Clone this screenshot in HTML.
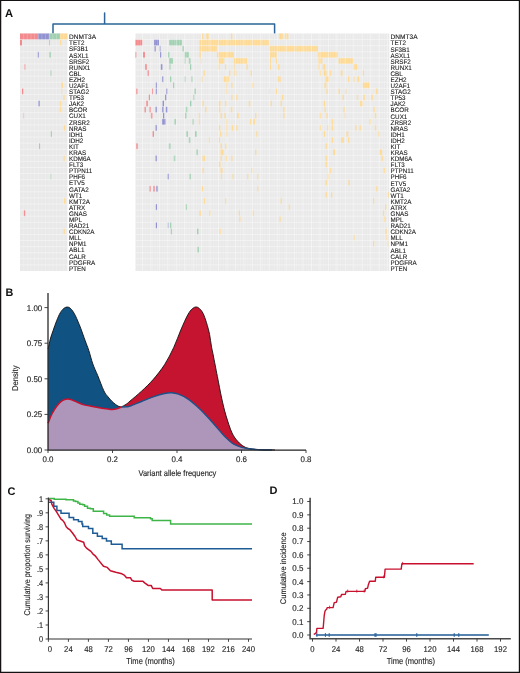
<!DOCTYPE html><html><head><meta charset="utf-8"><style>html,body{margin:0;padding:0;background:#fff;}svg{display:block;will-change:transform;}</style></head><body>
<svg width="520" height="673" viewBox="0 0 520 673" text-rendering="geometricPrecision" font-family='"Liberation Sans", sans-serif'>
<rect x="0" y="0" width="520" height="673" fill="#fff"/>
<path d="M0 0H520V1.0H0ZM0 0H1.25V673H0ZM518.8 0H520V673H518.8ZM0 671.8H520V673H0Z" fill="#141212"/>
<text x="5.0" y="16.8" font-size="11.2" text-anchor="start" fill="#111" font-weight="bold">A</text>
<text x="5.4" y="296.4" font-size="10.8" text-anchor="start" fill="#111" font-weight="bold">B</text>
<text x="7.4" y="494.6" font-size="11.0" text-anchor="start" fill="#111" font-weight="bold">C</text>
<text x="269.6" y="494.4" font-size="11.0" text-anchor="start" fill="#111" font-weight="bold">D</text>
<path d="M104.6 13V24M53 33.2V24H274.6V33.2" fill="none" stroke="#2c6598" stroke-width="1.5" stroke-linejoin="round" stroke-linecap="round"/>
<rect x="20.0" y="33.5" width="47.40" height="237.51" fill="#e9e9e9"/>
<rect x="20.00" y="33.50" width="18.20" height="6.09" fill="#f28a8e"/>
<rect x="38.20" y="33.50" width="10.90" height="6.09" fill="#9292d0"/>
<rect x="49.10" y="33.50" width="11.00" height="6.09" fill="#a0d0b1"/>
<rect x="60.10" y="33.50" width="7.30" height="6.09" fill="#fdd993"/>
<rect x="20.00" y="39.59" width="2.00" height="6.09" fill="#f28a8e"/>
<rect x="49.00" y="39.59" width="0.90" height="6.09" fill="#a0d0b1"/>
<rect x="60.00" y="39.59" width="1.20" height="6.09" fill="#fdd993"/>
<rect x="37.80" y="51.77" width="1.10" height="6.09" fill="#9292d0"/>
<rect x="49.30" y="51.77" width="1.50" height="6.09" fill="#a0d0b1"/>
<rect x="24.20" y="63.95" width="1.40" height="6.09" fill="#f28a8e" opacity="0.55"/>
<rect x="50.20" y="70.04" width="1.50" height="6.09" fill="#a0d0b1" opacity="0.55"/>
<rect x="61.50" y="82.22" width="1.40" height="6.09" fill="#fdd993"/>
<rect x="22.00" y="88.31" width="1.30" height="6.09" fill="#f28a8e"/>
<rect x="61.20" y="88.31" width="1.10" height="6.09" fill="#fdd993" opacity="0.55"/>
<rect x="63.20" y="94.40" width="1.40" height="6.09" fill="#fdd993"/>
<rect x="38.40" y="100.49" width="1.30" height="6.09" fill="#9292d0"/>
<rect x="59.80" y="100.49" width="1.30" height="6.09" fill="#fdd993"/>
<rect x="59.80" y="106.58" width="1.30" height="6.09" fill="#fdd993"/>
<rect x="23.30" y="112.67" width="0.80" height="6.09" fill="#f28a8e" opacity="0.55"/>
<rect x="63.80" y="124.85" width="1.30" height="6.09" fill="#fdd993"/>
<rect x="50.80" y="130.94" width="1.10" height="6.09" fill="#a0d0b1"/>
<rect x="39.00" y="143.12" width="1.10" height="6.09" fill="#9292d0" opacity="0.55"/>
<rect x="63.40" y="155.30" width="1.30" height="6.09" fill="#fdd993"/>
<rect x="50.40" y="173.57" width="1.00" height="6.09" fill="#a0d0b1" opacity="0.55"/>
<rect x="64.00" y="197.93" width="1.40" height="6.09" fill="#fdd993"/>
<rect x="23.80" y="210.11" width="1.40" height="6.09" fill="#f28a8e"/>
<rect x="63.40" y="228.38" width="1.40" height="6.09" fill="#fdd993"/>
<path d="M23.65 33.5V271.01M27.29 33.5V271.01M30.94 33.5V271.01M34.58 33.5V271.01M38.23 33.5V271.01M41.88 33.5V271.01M45.52 33.5V271.01M49.17 33.5V271.01M52.82 33.5V271.01M56.46 33.5V271.01M60.11 33.5V271.01M63.75 33.5V271.01" stroke="#ffffff" stroke-opacity="0.4" stroke-width="0.5" fill="none"/>
<path d="M20.0 39.59H67.4M20.0 45.68H67.4M20.0 51.77H67.4M20.0 57.86H67.4M20.0 63.95H67.4M20.0 70.04H67.4M20.0 76.13H67.4M20.0 82.22H67.4M20.0 88.31H67.4M20.0 94.40H67.4M20.0 100.49H67.4M20.0 106.58H67.4M20.0 112.67H67.4M20.0 118.76H67.4M20.0 124.85H67.4M20.0 130.94H67.4M20.0 137.03H67.4M20.0 143.12H67.4M20.0 149.21H67.4M20.0 155.30H67.4M20.0 161.39H67.4M20.0 167.48H67.4M20.0 173.57H67.4M20.0 179.66H67.4M20.0 185.75H67.4M20.0 191.84H67.4M20.0 197.93H67.4M20.0 204.02H67.4M20.0 210.11H67.4M20.0 216.20H67.4M20.0 222.29H67.4M20.0 228.38H67.4M20.0 234.47H67.4M20.0 240.56H67.4M20.0 246.65H67.4M20.0 252.74H67.4M20.0 258.83H67.4M20.0 264.92H67.4" stroke="#ffffff" stroke-opacity="0.5" stroke-width="0.8" fill="none"/>
<rect x="135.5" y="33.5" width="253.80" height="237.51" fill="#e9e9e9"/>
<rect x="202.10" y="33.50" width="1.40" height="6.09" fill="#fdd993"/>
<rect x="206.20" y="33.50" width="2.60" height="6.09" fill="#fdd993"/>
<rect x="230.90" y="33.50" width="1.40" height="6.09" fill="#fdd993"/>
<rect x="278.90" y="33.50" width="4.00" height="6.09" fill="#fdd993"/>
<rect x="284.80" y="33.50" width="3.50" height="6.09" fill="#fdd993"/>
<rect x="135.50" y="39.59" width="7.00" height="6.09" fill="#f28a8e"/>
<rect x="154.00" y="39.59" width="5.00" height="6.09" fill="#9292d0"/>
<rect x="169.00" y="39.59" width="13.00" height="6.09" fill="#a0d0b1"/>
<rect x="199.40" y="39.59" width="69.50" height="6.09" fill="#fdd993"/>
<rect x="154.50" y="45.68" width="1.30" height="6.09" fill="#9292d0"/>
<rect x="159.50" y="45.68" width="1.00" height="6.09" fill="#9292d0"/>
<rect x="182.50" y="45.68" width="1.30" height="6.09" fill="#a0d0b1"/>
<rect x="199.40" y="45.68" width="17.50" height="6.09" fill="#fdd993"/>
<rect x="269.40" y="45.68" width="48.50" height="6.09" fill="#fdd993"/>
<rect x="135.50" y="51.77" width="0.80" height="6.09" fill="#f28a8e"/>
<rect x="143.00" y="51.77" width="2.00" height="6.09" fill="#f28a8e"/>
<rect x="160.00" y="51.77" width="1.20" height="6.09" fill="#9292d0"/>
<rect x="168.00" y="51.77" width="1.50" height="6.09" fill="#a0d0b1"/>
<rect x="184.50" y="51.77" width="4.30" height="6.09" fill="#a0d0b1"/>
<rect x="199.40" y="51.77" width="1.40" height="6.09" fill="#fdd993"/>
<rect x="216.90" y="51.77" width="17.00" height="6.09" fill="#fdd993"/>
<rect x="270.00" y="51.77" width="6.70" height="6.09" fill="#fdd993"/>
<rect x="317.90" y="51.77" width="20.10" height="6.09" fill="#fdd993"/>
<rect x="169.00" y="57.86" width="4.00" height="6.09" fill="#a0d0b1"/>
<rect x="184.50" y="57.86" width="1.00" height="6.09" fill="#a0d0b1"/>
<rect x="188.80" y="57.86" width="1.70" height="6.09" fill="#a0d0b1"/>
<rect x="200.80" y="57.86" width="1.20" height="6.09" fill="#fdd993"/>
<rect x="218.30" y="57.86" width="5.90" height="6.09" fill="#fdd993"/>
<rect x="233.90" y="57.86" width="13.20" height="6.09" fill="#fdd993"/>
<rect x="270.00" y="57.86" width="1.00" height="6.09" fill="#fdd993"/>
<rect x="276.00" y="57.86" width="1.00" height="6.09" fill="#fdd993"/>
<rect x="318.30" y="57.86" width="4.00" height="6.09" fill="#fdd993"/>
<rect x="338.50" y="57.86" width="14.80" height="6.09" fill="#fdd993"/>
<rect x="145.00" y="63.95" width="1.80" height="6.09" fill="#f28a8e"/>
<rect x="160.80" y="63.95" width="1.70" height="6.09" fill="#9292d0"/>
<rect x="169.30" y="63.95" width="1.20" height="6.09" fill="#a0d0b1"/>
<rect x="190.00" y="63.95" width="1.30" height="6.09" fill="#a0d0b1"/>
<rect x="218.30" y="63.95" width="1.30" height="6.09" fill="#fdd993"/>
<rect x="225.00" y="63.95" width="1.30" height="6.09" fill="#fdd993"/>
<rect x="234.40" y="63.95" width="1.40" height="6.09" fill="#fdd993"/>
<rect x="246.50" y="63.95" width="1.40" height="6.09" fill="#fdd993"/>
<rect x="270.00" y="63.95" width="1.00" height="6.09" fill="#fdd993"/>
<rect x="277.50" y="63.95" width="2.30" height="6.09" fill="#fdd993"/>
<rect x="318.30" y="63.95" width="1.30" height="6.09" fill="#fdd993"/>
<rect x="322.80" y="63.95" width="2.70" height="6.09" fill="#fdd993"/>
<rect x="353.30" y="63.95" width="4.00" height="6.09" fill="#fdd993"/>
<rect x="147.50" y="70.04" width="1.30" height="6.09" fill="#f28a8e"/>
<rect x="203.50" y="70.04" width="1.30" height="6.09" fill="#fdd993"/>
<rect x="229.00" y="70.04" width="1.40" height="6.09" fill="#fdd993"/>
<rect x="234.40" y="70.04" width="1.90" height="6.09" fill="#fdd993"/>
<rect x="250.60" y="70.04" width="1.40" height="6.09" fill="#fdd993"/>
<rect x="319.60" y="70.04" width="1.30" height="6.09" fill="#fdd993"/>
<rect x="323.70" y="70.04" width="2.80" height="6.09" fill="#fdd993"/>
<rect x="329.80" y="70.04" width="1.40" height="6.09" fill="#fdd993"/>
<rect x="340.60" y="70.04" width="1.90" height="6.09" fill="#fdd993"/>
<rect x="362.70" y="70.04" width="1.30" height="6.09" fill="#fdd993"/>
<rect x="162.00" y="76.13" width="1.30" height="6.09" fill="#9292d0"/>
<rect x="170.00" y="76.13" width="1.30" height="6.09" fill="#a0d0b1"/>
<rect x="184.50" y="76.13" width="1.00" height="6.09" fill="#a0d0b1"/>
<rect x="191.30" y="76.13" width="1.20" height="6.09" fill="#a0d0b1"/>
<rect x="201.20" y="76.13" width="1.30" height="6.09" fill="#fdd993"/>
<rect x="223.70" y="76.13" width="5.30" height="6.09" fill="#fdd993"/>
<rect x="277.50" y="76.13" width="3.10" height="6.09" fill="#fdd993"/>
<rect x="325.50" y="76.13" width="3.50" height="6.09" fill="#fdd993"/>
<rect x="348.00" y="76.13" width="1.30" height="6.09" fill="#fdd993"/>
<rect x="353.30" y="76.13" width="1.30" height="6.09" fill="#fdd993"/>
<rect x="357.30" y="76.13" width="1.90" height="6.09" fill="#fdd993"/>
<rect x="155.80" y="82.22" width="1.00" height="6.09" fill="#9292d0"/>
<rect x="173.00" y="82.22" width="1.30" height="6.09" fill="#a0d0b1"/>
<rect x="226.30" y="82.22" width="1.20" height="6.09" fill="#fdd993"/>
<rect x="231.30" y="82.22" width="1.20" height="6.09" fill="#fdd993"/>
<rect x="252.00" y="82.22" width="1.30" height="6.09" fill="#fdd993"/>
<rect x="324.50" y="82.22" width="1.90" height="6.09" fill="#fdd993"/>
<rect x="362.70" y="82.22" width="6.70" height="6.09" fill="#fdd993"/>
<rect x="136.30" y="88.31" width="1.20" height="6.09" fill="#f28a8e"/>
<rect x="152.00" y="88.31" width="1.00" height="6.09" fill="#f28a8e"/>
<rect x="155.80" y="88.31" width="1.00" height="6.09" fill="#9292d0"/>
<rect x="166.30" y="88.31" width="1.20" height="6.09" fill="#9292d0"/>
<rect x="194.50" y="88.31" width="1.30" height="6.09" fill="#a0d0b1"/>
<rect x="226.30" y="88.31" width="1.20" height="6.09" fill="#fdd993"/>
<rect x="269.00" y="88.31" width="1.00" height="6.09" fill="#fdd993"/>
<rect x="276.00" y="88.31" width="1.00" height="6.09" fill="#fdd993"/>
<rect x="326.40" y="88.31" width="1.30" height="6.09" fill="#fdd993"/>
<rect x="338.50" y="88.31" width="1.30" height="6.09" fill="#fdd993"/>
<rect x="345.00" y="88.31" width="1.30" height="6.09" fill="#fdd993"/>
<rect x="376.00" y="88.31" width="1.80" height="6.09" fill="#fdd993"/>
<rect x="148.80" y="94.40" width="1.20" height="6.09" fill="#f28a8e"/>
<rect x="165.00" y="94.40" width="1.30" height="6.09" fill="#9292d0"/>
<rect x="193.00" y="94.40" width="1.30" height="6.09" fill="#a0d0b1"/>
<rect x="231.30" y="94.40" width="1.20" height="6.09" fill="#fdd993"/>
<rect x="236.30" y="94.40" width="1.20" height="6.09" fill="#fdd993"/>
<rect x="282.00" y="94.40" width="1.30" height="6.09" fill="#fdd993"/>
<rect x="342.50" y="94.40" width="1.40" height="6.09" fill="#fdd993"/>
<rect x="356.80" y="94.40" width="1.30" height="6.09" fill="#fdd993"/>
<rect x="363.50" y="94.40" width="1.40" height="6.09" fill="#fdd993"/>
<rect x="371.30" y="94.40" width="1.60" height="6.09" fill="#fdd993"/>
<rect x="146.30" y="100.49" width="1.70" height="6.09" fill="#f28a8e"/>
<rect x="162.50" y="100.49" width="1.50" height="6.09" fill="#9292d0"/>
<rect x="190.00" y="100.49" width="1.50" height="6.09" fill="#a0d0b1"/>
<rect x="202.50" y="100.49" width="1.50" height="6.09" fill="#fdd993"/>
<rect x="218.80" y="100.49" width="1.70" height="6.09" fill="#fdd993"/>
<rect x="225.00" y="100.49" width="1.50" height="6.09" fill="#fdd993"/>
<rect x="248.80" y="100.49" width="1.50" height="6.09" fill="#fdd993"/>
<rect x="270.60" y="100.49" width="1.40" height="6.09" fill="#fdd993"/>
<rect x="280.60" y="100.49" width="1.40" height="6.09" fill="#fdd993"/>
<rect x="323.70" y="100.49" width="1.30" height="6.09" fill="#fdd993"/>
<rect x="360.00" y="100.49" width="2.70" height="6.09" fill="#fdd993"/>
<rect x="144.50" y="106.58" width="1.50" height="6.09" fill="#f28a8e"/>
<rect x="149.50" y="106.58" width="1.50" height="6.09" fill="#f28a8e"/>
<rect x="155.50" y="106.58" width="1.30" height="6.09" fill="#9292d0"/>
<rect x="162.00" y="106.58" width="1.50" height="6.09" fill="#9292d0"/>
<rect x="165.80" y="106.58" width="1.70" height="6.09" fill="#9292d0"/>
<rect x="185.80" y="106.58" width="1.50" height="6.09" fill="#a0d0b1"/>
<rect x="205.00" y="106.58" width="1.50" height="6.09" fill="#fdd993"/>
<rect x="218.80" y="106.58" width="1.50" height="6.09" fill="#fdd993"/>
<rect x="230.80" y="106.58" width="1.50" height="6.09" fill="#fdd993"/>
<rect x="283.30" y="106.58" width="1.30" height="6.09" fill="#fdd993"/>
<rect x="324.50" y="106.58" width="1.30" height="6.09" fill="#fdd993"/>
<rect x="343.30" y="106.58" width="1.40" height="6.09" fill="#fdd993"/>
<rect x="373.50" y="106.58" width="1.30" height="6.09" fill="#fdd993"/>
<rect x="150.80" y="112.67" width="1.70" height="6.09" fill="#f28a8e"/>
<rect x="163.00" y="112.67" width="1.30" height="6.09" fill="#9292d0"/>
<rect x="185.00" y="112.67" width="1.50" height="6.09" fill="#a0d0b1"/>
<rect x="198.80" y="112.67" width="1.20" height="6.09" fill="#fdd993"/>
<rect x="220.50" y="112.67" width="1.50" height="6.09" fill="#fdd993"/>
<rect x="224.50" y="112.67" width="1.50" height="6.09" fill="#fdd993"/>
<rect x="237.00" y="112.67" width="1.80" height="6.09" fill="#fdd993"/>
<rect x="255.00" y="112.67" width="1.30" height="6.09" fill="#fdd993"/>
<rect x="283.30" y="112.67" width="1.30" height="6.09" fill="#fdd993"/>
<rect x="319.60" y="112.67" width="1.60" height="6.09" fill="#fdd993"/>
<rect x="326.40" y="112.67" width="1.30" height="6.09" fill="#fdd993"/>
<rect x="344.70" y="112.67" width="1.30" height="6.09" fill="#fdd993"/>
<rect x="374.80" y="112.67" width="1.40" height="6.09" fill="#fdd993"/>
<rect x="162.00" y="118.76" width="3.50" height="6.09" fill="#9292d0"/>
<rect x="174.30" y="118.76" width="1.70" height="6.09" fill="#a0d0b1"/>
<rect x="192.50" y="118.76" width="1.50" height="6.09" fill="#a0d0b1"/>
<rect x="198.80" y="118.76" width="1.20" height="6.09" fill="#fdd993"/>
<rect x="226.30" y="118.76" width="1.20" height="6.09" fill="#fdd993"/>
<rect x="250.00" y="118.76" width="1.30" height="6.09" fill="#fdd993"/>
<rect x="253.30" y="118.76" width="1.70" height="6.09" fill="#fdd993"/>
<rect x="331.70" y="118.76" width="1.40" height="6.09" fill="#fdd993"/>
<rect x="369.40" y="118.76" width="1.40" height="6.09" fill="#fdd993"/>
<rect x="155.50" y="124.85" width="1.30" height="6.09" fill="#9292d0"/>
<rect x="218.80" y="124.85" width="1.50" height="6.09" fill="#fdd993"/>
<rect x="226.30" y="124.85" width="1.20" height="6.09" fill="#fdd993"/>
<rect x="231.80" y="124.85" width="1.50" height="6.09" fill="#fdd993"/>
<rect x="236.30" y="124.85" width="1.20" height="6.09" fill="#fdd993"/>
<rect x="319.60" y="124.85" width="1.40" height="6.09" fill="#fdd993"/>
<rect x="327.20" y="124.85" width="1.30" height="6.09" fill="#fdd993"/>
<rect x="331.70" y="124.85" width="1.40" height="6.09" fill="#fdd993"/>
<rect x="355.20" y="124.85" width="1.30" height="6.09" fill="#fdd993"/>
<rect x="359.50" y="124.85" width="1.30" height="6.09" fill="#fdd993"/>
<rect x="374.80" y="124.85" width="1.40" height="6.09" fill="#fdd993"/>
<rect x="152.50" y="130.94" width="1.50" height="6.09" fill="#f28a8e"/>
<rect x="186.30" y="130.94" width="1.70" height="6.09" fill="#a0d0b1"/>
<rect x="195.00" y="130.94" width="1.80" height="6.09" fill="#a0d0b1"/>
<rect x="220.00" y="130.94" width="1.50" height="6.09" fill="#fdd993"/>
<rect x="226.30" y="130.94" width="1.20" height="6.09" fill="#fdd993"/>
<rect x="256.30" y="130.94" width="1.40" height="6.09" fill="#fdd993"/>
<rect x="323.70" y="130.94" width="1.30" height="6.09" fill="#fdd993"/>
<rect x="346.50" y="130.94" width="1.70" height="6.09" fill="#fdd993"/>
<rect x="378.30" y="130.94" width="1.40" height="6.09" fill="#fdd993"/>
<rect x="188.80" y="137.03" width="1.50" height="6.09" fill="#a0d0b1"/>
<rect x="208.80" y="137.03" width="1.20" height="6.09" fill="#fdd993"/>
<rect x="218.80" y="137.03" width="1.20" height="6.09" fill="#fdd993"/>
<rect x="331.70" y="137.03" width="1.40" height="6.09" fill="#fdd993"/>
<rect x="341.20" y="137.03" width="2.70" height="6.09" fill="#fdd993"/>
<rect x="348.00" y="137.03" width="1.30" height="6.09" fill="#fdd993"/>
<rect x="136.30" y="143.12" width="1.50" height="6.09" fill="#f28a8e"/>
<rect x="168.80" y="143.12" width="1.70" height="6.09" fill="#a0d0b1"/>
<rect x="220.50" y="143.12" width="1.50" height="6.09" fill="#fdd993"/>
<rect x="225.00" y="143.12" width="1.50" height="6.09" fill="#fdd993"/>
<rect x="325.50" y="143.12" width="1.40" height="6.09" fill="#fdd993"/>
<rect x="196.30" y="149.21" width="1.50" height="6.09" fill="#a0d0b1"/>
<rect x="220.50" y="149.21" width="3.30" height="6.09" fill="#fdd993"/>
<rect x="255.00" y="149.21" width="1.30" height="6.09" fill="#fdd993"/>
<rect x="333.00" y="149.21" width="2.00" height="6.09" fill="#fdd993"/>
<rect x="379.40" y="149.21" width="2.70" height="6.09" fill="#fdd993"/>
<rect x="155.50" y="155.30" width="1.30" height="6.09" fill="#9292d0"/>
<rect x="173.80" y="155.30" width="1.50" height="6.09" fill="#a0d0b1"/>
<rect x="202.50" y="155.30" width="2.50" height="6.09" fill="#fdd993"/>
<rect x="220.50" y="155.30" width="1.30" height="6.09" fill="#fdd993"/>
<rect x="225.80" y="155.30" width="1.20" height="6.09" fill="#fdd993"/>
<rect x="231.30" y="155.30" width="1.20" height="6.09" fill="#fdd993"/>
<rect x="325.50" y="155.30" width="1.40" height="6.09" fill="#fdd993"/>
<rect x="381.50" y="155.30" width="1.40" height="6.09" fill="#fdd993"/>
<rect x="218.80" y="161.39" width="1.70" height="6.09" fill="#fdd993"/>
<rect x="325.50" y="161.39" width="1.40" height="6.09" fill="#fdd993"/>
<rect x="202.50" y="167.48" width="1.50" height="6.09" fill="#fdd993"/>
<rect x="220.50" y="167.48" width="2.00" height="6.09" fill="#fdd993"/>
<rect x="251.30" y="167.48" width="1.20" height="6.09" fill="#fdd993"/>
<rect x="329.90" y="167.48" width="1.30" height="6.09" fill="#fdd993"/>
<rect x="383.70" y="167.48" width="1.30" height="6.09" fill="#fdd993"/>
<rect x="167.50" y="173.57" width="1.30" height="6.09" fill="#9292d0"/>
<rect x="189.50" y="173.57" width="1.30" height="6.09" fill="#a0d0b1"/>
<rect x="220.80" y="173.57" width="1.20" height="6.09" fill="#fdd993"/>
<rect x="232.50" y="173.57" width="1.30" height="6.09" fill="#fdd993"/>
<rect x="247.00" y="173.57" width="1.30" height="6.09" fill="#fdd993"/>
<rect x="257.00" y="173.57" width="1.30" height="6.09" fill="#fdd993"/>
<rect x="327.70" y="173.57" width="1.30" height="6.09" fill="#fdd993"/>
<rect x="325.50" y="179.66" width="1.40" height="6.09" fill="#fdd993"/>
<rect x="348.40" y="179.66" width="1.40" height="6.09" fill="#fdd993"/>
<rect x="149.50" y="185.75" width="1.50" height="6.09" fill="#f28a8e"/>
<rect x="153.30" y="185.75" width="1.50" height="6.09" fill="#f28a8e"/>
<rect x="156.30" y="185.75" width="1.50" height="6.09" fill="#9292d0"/>
<rect x="201.80" y="185.75" width="1.20" height="6.09" fill="#fdd993"/>
<rect x="257.00" y="185.75" width="1.30" height="6.09" fill="#fdd993"/>
<rect x="376.20" y="185.75" width="1.30" height="6.09" fill="#fdd993"/>
<rect x="325.50" y="191.84" width="1.40" height="6.09" fill="#fdd993"/>
<rect x="331.00" y="191.84" width="1.30" height="6.09" fill="#fdd993"/>
<rect x="387.50" y="191.84" width="1.30" height="6.09" fill="#fdd993"/>
<rect x="203.80" y="197.93" width="1.20" height="6.09" fill="#fdd993"/>
<rect x="225.00" y="197.93" width="1.30" height="6.09" fill="#fdd993"/>
<rect x="280.60" y="197.93" width="1.40" height="6.09" fill="#fdd993"/>
<rect x="373.00" y="197.93" width="1.30" height="6.09" fill="#fdd993"/>
<rect x="155.80" y="204.02" width="1.20" height="6.09" fill="#9292d0"/>
<rect x="185.80" y="204.02" width="1.20" height="6.09" fill="#a0d0b1"/>
<rect x="288.70" y="204.02" width="1.30" height="6.09" fill="#fdd993"/>
<rect x="385.00" y="204.02" width="1.40" height="6.09" fill="#fdd993"/>
<rect x="199.30" y="210.11" width="1.50" height="6.09" fill="#fdd993"/>
<rect x="209.00" y="210.11" width="1.50" height="6.09" fill="#fdd993"/>
<rect x="238.80" y="210.11" width="1.20" height="6.09" fill="#fdd993"/>
<rect x="252.50" y="210.11" width="1.30" height="6.09" fill="#fdd993"/>
<rect x="382.90" y="210.11" width="1.30" height="6.09" fill="#fdd993"/>
<rect x="239.30" y="216.20" width="1.20" height="6.09" fill="#fdd993"/>
<rect x="279.20" y="216.20" width="1.40" height="6.09" fill="#fdd993"/>
<rect x="384.20" y="216.20" width="1.30" height="6.09" fill="#fdd993"/>
<rect x="155.80" y="222.29" width="1.20" height="6.09" fill="#9292d0"/>
<rect x="167.50" y="222.29" width="1.30" height="6.09" fill="#9292d0" opacity="0.55"/>
<rect x="170.00" y="222.29" width="1.30" height="6.09" fill="#a0d0b1"/>
<rect x="170.80" y="228.38" width="1.20" height="6.09" fill="#a0d0b1"/>
<rect x="197.00" y="228.38" width="1.50" height="6.09" fill="#a0d0b1"/>
<rect x="219.50" y="228.38" width="1.30" height="6.09" fill="#fdd993"/>
<rect x="385.50" y="228.38" width="1.30" height="6.09" fill="#fdd993"/>
<rect x="353.30" y="234.47" width="1.30" height="6.09" fill="#fdd993"/>
<rect x="386.40" y="234.47" width="1.30" height="6.09" fill="#fdd993"/>
<rect x="373.00" y="240.56" width="1.30" height="6.09" fill="#fdd993"/>
<rect x="387.00" y="240.56" width="1.30" height="6.09" fill="#fdd993"/>
<rect x="197.50" y="246.65" width="1.50" height="6.09" fill="#a0d0b1"/>
<path d="M137.94 33.5V271.01M140.38 33.5V271.01M142.82 33.5V271.01M145.26 33.5V271.01M147.70 33.5V271.01M150.14 33.5V271.01M152.58 33.5V271.01M155.02 33.5V271.01M157.46 33.5V271.01M159.90 33.5V271.01M162.34 33.5V271.01M164.78 33.5V271.01M167.22 33.5V271.01M169.67 33.5V271.01M172.11 33.5V271.01M174.55 33.5V271.01M176.99 33.5V271.01M179.43 33.5V271.01M181.87 33.5V271.01M184.31 33.5V271.01M186.75 33.5V271.01M189.19 33.5V271.01M191.63 33.5V271.01M194.07 33.5V271.01M196.51 33.5V271.01M198.95 33.5V271.01M201.39 33.5V271.01M203.83 33.5V271.01M206.27 33.5V271.01M208.71 33.5V271.01M211.15 33.5V271.01M213.59 33.5V271.01M216.03 33.5V271.01M218.47 33.5V271.01M220.91 33.5V271.01M223.35 33.5V271.01M225.79 33.5V271.01M228.23 33.5V271.01M230.68 33.5V271.01M233.12 33.5V271.01M235.56 33.5V271.01M238.00 33.5V271.01M240.44 33.5V271.01M242.88 33.5V271.01M245.32 33.5V271.01M247.76 33.5V271.01M250.20 33.5V271.01M252.64 33.5V271.01M255.08 33.5V271.01M257.52 33.5V271.01M259.96 33.5V271.01M262.40 33.5V271.01M264.84 33.5V271.01M267.28 33.5V271.01M269.72 33.5V271.01M272.16 33.5V271.01M274.60 33.5V271.01M277.04 33.5V271.01M279.48 33.5V271.01M281.92 33.5V271.01M284.36 33.5V271.01M286.80 33.5V271.01M289.24 33.5V271.01M291.68 33.5V271.01M294.12 33.5V271.01M296.57 33.5V271.01M299.01 33.5V271.01M301.45 33.5V271.01M303.89 33.5V271.01M306.33 33.5V271.01M308.77 33.5V271.01M311.21 33.5V271.01M313.65 33.5V271.01M316.09 33.5V271.01M318.53 33.5V271.01M320.97 33.5V271.01M323.41 33.5V271.01M325.85 33.5V271.01M328.29 33.5V271.01M330.73 33.5V271.01M333.17 33.5V271.01M335.61 33.5V271.01M338.05 33.5V271.01M340.49 33.5V271.01M342.93 33.5V271.01M345.37 33.5V271.01M347.81 33.5V271.01M350.25 33.5V271.01M352.69 33.5V271.01M355.13 33.5V271.01M357.58 33.5V271.01M360.02 33.5V271.01M362.46 33.5V271.01M364.90 33.5V271.01M367.34 33.5V271.01M369.78 33.5V271.01M372.22 33.5V271.01M374.66 33.5V271.01M377.10 33.5V271.01M379.54 33.5V271.01M381.98 33.5V271.01M384.42 33.5V271.01M386.86 33.5V271.01" stroke="#ffffff" stroke-opacity="0.4" stroke-width="0.5" fill="none"/>
<path d="M142.50 33.5V271.01M150.95 33.5V271.01M159.40 33.5V271.01M167.85 33.5V271.01M176.30 33.5V271.01M184.75 33.5V271.01M193.20 33.5V271.01M201.65 33.5V271.01M210.10 33.5V271.01M218.55 33.5V271.01M227.00 33.5V271.01M235.45 33.5V271.01M243.90 33.5V271.01M252.35 33.5V271.01M260.80 33.5V271.01M269.25 33.5V271.01M277.70 33.5V271.01M286.15 33.5V271.01M294.60 33.5V271.01M303.05 33.5V271.01M311.50 33.5V271.01M319.95 33.5V271.01M328.40 33.5V271.01M336.85 33.5V271.01M345.30 33.5V271.01M353.75 33.5V271.01M362.20 33.5V271.01M370.65 33.5V271.01M379.10 33.5V271.01M387.55 33.5V271.01" stroke="#ffffff" stroke-opacity="0.4" stroke-width="0.9" fill="none"/>
<path d="M135.5 39.59H389.3M135.5 45.68H389.3M135.5 51.77H389.3M135.5 57.86H389.3M135.5 63.95H389.3M135.5 70.04H389.3M135.5 76.13H389.3M135.5 82.22H389.3M135.5 88.31H389.3M135.5 94.40H389.3M135.5 100.49H389.3M135.5 106.58H389.3M135.5 112.67H389.3M135.5 118.76H389.3M135.5 124.85H389.3M135.5 130.94H389.3M135.5 137.03H389.3M135.5 143.12H389.3M135.5 149.21H389.3M135.5 155.30H389.3M135.5 161.39H389.3M135.5 167.48H389.3M135.5 173.57H389.3M135.5 179.66H389.3M135.5 185.75H389.3M135.5 191.84H389.3M135.5 197.93H389.3M135.5 204.02H389.3M135.5 210.11H389.3M135.5 216.20H389.3M135.5 222.29H389.3M135.5 228.38H389.3M135.5 234.47H389.3M135.5 240.56H389.3M135.5 246.65H389.3M135.5 252.74H389.3M135.5 258.83H389.3M135.5 264.92H389.3" stroke="#ffffff" stroke-opacity="0.5" stroke-width="0.8" fill="none"/>
<g font-family='"Liberation Sans", sans-serif' font-size="6.6" fill="#1e1e1e" stroke="#1e1e1e" stroke-width="0.12" transform="rotate(0.01)">
<text x="69.1" y="39.30" textLength="27.00" lengthAdjust="spacingAndGlyphs">DNMT3A</text>
<text x="69.1" y="45.39" textLength="15.33" lengthAdjust="spacingAndGlyphs">TET2</text>
<text x="69.1" y="51.48" textLength="19.17" lengthAdjust="spacingAndGlyphs">SF3B1</text>
<text x="69.1" y="57.57" textLength="19.52" lengthAdjust="spacingAndGlyphs">ASXL1</text>
<text x="69.1" y="63.66" textLength="20.21" lengthAdjust="spacingAndGlyphs">SRSF2</text>
<text x="69.1" y="69.75" textLength="21.25" lengthAdjust="spacingAndGlyphs">RUNX1</text>
<text x="69.1" y="75.84" textLength="12.20" lengthAdjust="spacingAndGlyphs">CBL</text>
<text x="69.1" y="81.93" textLength="16.03" lengthAdjust="spacingAndGlyphs">EZH2</text>
<text x="69.1" y="88.02" textLength="19.51" lengthAdjust="spacingAndGlyphs">U2AF1</text>
<text x="69.1" y="94.11" textLength="20.09" lengthAdjust="spacingAndGlyphs">STAG2</text>
<text x="69.1" y="100.20" textLength="14.99" lengthAdjust="spacingAndGlyphs">TP53</text>
<text x="69.1" y="106.29" textLength="14.99" lengthAdjust="spacingAndGlyphs">JAK2</text>
<text x="69.1" y="112.38" textLength="18.12" lengthAdjust="spacingAndGlyphs">BCOR</text>
<text x="69.1" y="118.47" textLength="16.73" lengthAdjust="spacingAndGlyphs">CUX1</text>
<text x="69.1" y="124.56" textLength="20.55" lengthAdjust="spacingAndGlyphs">ZRSR2</text>
<text x="69.1" y="130.65" textLength="17.42" lengthAdjust="spacingAndGlyphs">NRAS</text>
<text x="69.1" y="136.74" textLength="14.28" lengthAdjust="spacingAndGlyphs">IDH1</text>
<text x="69.1" y="142.83" textLength="14.28" lengthAdjust="spacingAndGlyphs">IDH2</text>
<text x="69.1" y="148.92" textLength="9.75" lengthAdjust="spacingAndGlyphs">KIT</text>
<text x="69.1" y="155.01" textLength="17.07" lengthAdjust="spacingAndGlyphs">KRAS</text>
<text x="69.1" y="161.10" textLength="21.60" lengthAdjust="spacingAndGlyphs">KDM6A</text>
<text x="69.1" y="167.19" textLength="14.17" lengthAdjust="spacingAndGlyphs">FLT3</text>
<text x="69.1" y="173.28" textLength="23.23" lengthAdjust="spacingAndGlyphs">PTPN11</text>
<text x="69.1" y="179.37" textLength="16.03" lengthAdjust="spacingAndGlyphs">PHF6</text>
<text x="69.1" y="185.46" textLength="15.68" lengthAdjust="spacingAndGlyphs">ETV5</text>
<text x="69.1" y="191.55" textLength="19.63" lengthAdjust="spacingAndGlyphs">GATA2</text>
<text x="69.1" y="197.64" textLength="13.23" lengthAdjust="spacingAndGlyphs">WT1</text>
<text x="69.1" y="203.73" textLength="20.90" lengthAdjust="spacingAndGlyphs">KMT2A</text>
<text x="69.1" y="209.82" textLength="16.26" lengthAdjust="spacingAndGlyphs">ATRX</text>
<text x="69.1" y="215.91" textLength="17.77" lengthAdjust="spacingAndGlyphs">GNAS</text>
<text x="69.1" y="222.00" textLength="12.89" lengthAdjust="spacingAndGlyphs">MPL</text>
<text x="69.1" y="228.09" textLength="20.21" lengthAdjust="spacingAndGlyphs">RAD21</text>
<text x="69.1" y="234.18" textLength="25.44" lengthAdjust="spacingAndGlyphs">CDKN2A</text>
<text x="69.1" y="240.27" textLength="12.20" lengthAdjust="spacingAndGlyphs">MLL</text>
<text x="69.1" y="246.36" textLength="17.42" lengthAdjust="spacingAndGlyphs">NPM1</text>
<text x="69.1" y="252.45" textLength="15.34" lengthAdjust="spacingAndGlyphs">ABL1</text>
<text x="69.1" y="258.54" textLength="16.73" lengthAdjust="spacingAndGlyphs">CALR</text>
<text x="69.1" y="264.63" textLength="26.13" lengthAdjust="spacingAndGlyphs">PDGFRA</text>
<text x="69.1" y="270.72" textLength="16.72" lengthAdjust="spacingAndGlyphs">PTEN</text>
</g>
<g font-family='"Liberation Sans", sans-serif' font-size="6.6" fill="#1e1e1e" stroke="#1e1e1e" stroke-width="0.12" transform="rotate(0.01)">
<text x="390.6" y="39.30" textLength="27.00" lengthAdjust="spacingAndGlyphs">DNMT3A</text>
<text x="390.6" y="45.39" textLength="15.33" lengthAdjust="spacingAndGlyphs">TET2</text>
<text x="390.6" y="51.48" textLength="19.17" lengthAdjust="spacingAndGlyphs">SF3B1</text>
<text x="390.6" y="57.57" textLength="19.52" lengthAdjust="spacingAndGlyphs">ASXL1</text>
<text x="390.6" y="63.66" textLength="20.21" lengthAdjust="spacingAndGlyphs">SRSF2</text>
<text x="390.6" y="69.75" textLength="21.25" lengthAdjust="spacingAndGlyphs">RUNX1</text>
<text x="390.6" y="75.84" textLength="12.20" lengthAdjust="spacingAndGlyphs">CBL</text>
<text x="390.6" y="81.93" textLength="16.03" lengthAdjust="spacingAndGlyphs">EZH2</text>
<text x="390.6" y="88.02" textLength="19.51" lengthAdjust="spacingAndGlyphs">U2AF1</text>
<text x="390.6" y="94.11" textLength="20.09" lengthAdjust="spacingAndGlyphs">STAG2</text>
<text x="390.6" y="100.20" textLength="14.99" lengthAdjust="spacingAndGlyphs">TP53</text>
<text x="390.6" y="106.29" textLength="14.99" lengthAdjust="spacingAndGlyphs">JAK2</text>
<text x="390.6" y="112.38" textLength="18.12" lengthAdjust="spacingAndGlyphs">BCOR</text>
<text x="390.6" y="118.47" textLength="16.73" lengthAdjust="spacingAndGlyphs">CUX1</text>
<text x="390.6" y="124.56" textLength="20.55" lengthAdjust="spacingAndGlyphs">ZRSR2</text>
<text x="390.6" y="130.65" textLength="17.42" lengthAdjust="spacingAndGlyphs">NRAS</text>
<text x="390.6" y="136.74" textLength="14.28" lengthAdjust="spacingAndGlyphs">IDH1</text>
<text x="390.6" y="142.83" textLength="14.28" lengthAdjust="spacingAndGlyphs">IDH2</text>
<text x="390.6" y="148.92" textLength="9.75" lengthAdjust="spacingAndGlyphs">KIT</text>
<text x="390.6" y="155.01" textLength="17.07" lengthAdjust="spacingAndGlyphs">KRAS</text>
<text x="390.6" y="161.10" textLength="21.60" lengthAdjust="spacingAndGlyphs">KDM6A</text>
<text x="390.6" y="167.19" textLength="14.17" lengthAdjust="spacingAndGlyphs">FLT3</text>
<text x="390.6" y="173.28" textLength="23.23" lengthAdjust="spacingAndGlyphs">PTPN11</text>
<text x="390.6" y="179.37" textLength="16.03" lengthAdjust="spacingAndGlyphs">PHF6</text>
<text x="390.6" y="185.46" textLength="15.68" lengthAdjust="spacingAndGlyphs">ETV5</text>
<text x="390.6" y="191.55" textLength="19.63" lengthAdjust="spacingAndGlyphs">GATA2</text>
<text x="390.6" y="197.64" textLength="13.23" lengthAdjust="spacingAndGlyphs">WT1</text>
<text x="390.6" y="203.73" textLength="20.90" lengthAdjust="spacingAndGlyphs">KMT2A</text>
<text x="390.6" y="209.82" textLength="16.26" lengthAdjust="spacingAndGlyphs">ATRX</text>
<text x="390.6" y="215.91" textLength="17.77" lengthAdjust="spacingAndGlyphs">GNAS</text>
<text x="390.6" y="222.00" textLength="12.89" lengthAdjust="spacingAndGlyphs">MPL</text>
<text x="390.6" y="228.09" textLength="20.21" lengthAdjust="spacingAndGlyphs">RAD21</text>
<text x="390.6" y="234.18" textLength="25.44" lengthAdjust="spacingAndGlyphs">CDKN2A</text>
<text x="390.6" y="240.27" textLength="12.20" lengthAdjust="spacingAndGlyphs">MLL</text>
<text x="390.6" y="246.36" textLength="17.42" lengthAdjust="spacingAndGlyphs">NPM1</text>
<text x="390.6" y="252.45" textLength="15.34" lengthAdjust="spacingAndGlyphs">ABL1</text>
<text x="390.6" y="258.54" textLength="16.73" lengthAdjust="spacingAndGlyphs">CALR</text>
<text x="390.6" y="264.63" textLength="26.13" lengthAdjust="spacingAndGlyphs">PDGFRA</text>
<text x="390.6" y="270.72" textLength="16.72" lengthAdjust="spacingAndGlyphs">PTEN</text>
</g>
<path d="M48.10 349.10C48.47 347.43 49.47 342.18 50.30 339.10C51.13 336.02 52.03 333.68 53.10 330.60C54.17 327.52 55.50 323.58 56.70 320.60C57.90 317.62 59.10 314.73 60.30 312.70C61.50 310.67 62.73 309.35 63.90 308.40C65.07 307.45 66.25 307.03 67.30 307.00C68.35 306.97 69.28 307.50 70.20 308.20C71.12 308.90 71.93 309.95 72.80 311.20C73.67 312.45 74.52 313.93 75.40 315.70C76.28 317.47 77.22 319.72 78.10 321.80C78.98 323.88 79.52 325.05 80.70 328.20C81.88 331.35 83.85 336.98 85.20 340.70C86.55 344.42 87.53 346.63 88.80 350.50C90.07 354.37 91.32 359.73 92.80 363.90C94.28 368.07 95.85 371.00 97.70 375.50C99.55 380.00 102.18 387.35 103.90 390.90C105.62 394.45 106.72 395.12 108.00 396.80C109.28 398.48 110.35 399.73 111.60 401.00C112.85 402.27 114.33 403.52 115.50 404.40C116.67 405.28 117.65 405.87 118.60 406.30C119.55 406.73 119.92 406.93 121.20 407.00C122.48 407.07 124.83 406.83 126.30 406.70C127.77 406.57 127.47 407.07 130.00 406.20C132.53 405.33 137.65 403.05 141.50 401.50C145.35 399.95 149.25 398.23 153.10 396.90C156.95 395.57 161.53 394.18 164.60 393.50C167.67 392.82 169.18 392.68 171.50 392.80C173.82 392.92 175.80 393.20 178.50 394.20C181.20 395.20 184.63 396.80 187.70 398.80C190.77 400.80 193.82 403.43 196.90 406.20C199.98 408.97 203.12 412.13 206.20 415.40C209.28 418.67 212.33 422.33 215.40 425.80C218.47 429.27 221.53 433.13 224.60 436.20C227.67 439.27 230.72 442.28 233.80 444.20C236.88 446.12 240.40 446.90 243.10 447.70C245.80 448.50 247.18 448.67 250.00 449.00C252.82 449.33 256.33 449.53 260.00 449.70C263.67 449.87 270.00 449.95 272.00 450.00L272 450.0L48.1 450.0Z" fill="#105282"/>
<path d="M48.10 423.30C48.73 421.75 50.40 416.93 51.90 414.00C53.40 411.07 55.37 407.93 57.10 405.70C58.83 403.47 60.57 401.70 62.30 400.60C64.03 399.50 65.77 399.17 67.50 399.10C69.23 399.03 70.97 399.63 72.70 400.20C74.43 400.77 76.17 401.77 77.90 402.50C79.63 403.23 81.08 404.02 83.10 404.60C85.12 405.18 87.70 405.55 90.00 406.00C92.30 406.45 94.60 406.87 96.90 407.30C99.20 407.73 101.48 408.25 103.80 408.60C106.12 408.95 108.77 409.32 110.80 409.40C112.83 409.48 114.27 409.50 116.00 409.10C117.73 408.70 119.48 407.82 121.20 407.00C122.92 406.18 124.83 405.18 126.30 404.20C127.77 403.22 127.47 403.27 130.00 401.10C132.53 398.93 137.65 394.78 141.50 391.20C145.35 387.62 149.25 384.03 153.10 379.60C156.95 375.17 161.15 369.98 164.60 364.60C168.05 359.22 171.10 353.07 173.80 347.30C176.50 341.53 178.48 335.38 180.80 330.00C183.12 324.62 185.78 318.53 187.70 315.00C189.62 311.47 190.83 310.13 192.30 308.80C193.77 307.47 195.13 306.87 196.50 307.00C197.87 307.13 199.28 308.27 200.50 309.60C201.72 310.93 202.67 312.37 203.80 315.00C204.93 317.63 206.33 322.13 207.30 325.40C208.27 328.67 208.92 331.15 209.60 334.60C210.28 338.05 210.80 342.70 211.40 346.10C212.00 349.50 212.20 349.92 213.20 355.00C214.20 360.08 215.98 369.38 217.40 376.60C218.82 383.82 220.27 391.80 221.70 398.30C223.13 404.80 224.28 409.83 226.00 415.60C227.72 421.37 230.00 428.57 232.00 432.90C234.00 437.23 236.00 439.32 238.00 441.60C240.00 443.88 242.00 445.43 244.00 446.60C246.00 447.77 247.33 448.10 250.00 448.60C252.67 449.10 255.83 449.37 260.00 449.60C264.17 449.83 272.50 449.93 275.00 450.00L275 450.0L48.1 450.0Z" fill="#c41430"/>
<path d="M48.10 423.30C48.73 421.75 50.40 416.93 51.90 414.00C53.40 411.07 55.37 407.93 57.10 405.70C58.83 403.47 60.57 401.70 62.30 400.60C64.03 399.50 65.77 399.17 67.50 399.10C69.23 399.03 70.97 399.63 72.70 400.20C74.43 400.77 76.17 401.77 77.90 402.50C79.63 403.23 81.08 404.02 83.10 404.60C85.12 405.18 87.70 405.55 90.00 406.00C92.30 406.45 94.60 406.87 96.90 407.30C99.20 407.73 101.48 408.25 103.80 408.60C106.12 408.95 108.77 409.32 110.80 409.40C112.83 409.48 114.27 409.50 116.00 409.10C117.73 408.70 119.48 407.40 121.20 407.00C122.92 406.60 124.83 406.83 126.30 406.70C127.77 406.57 127.47 407.07 130.00 406.20C132.53 405.33 137.65 403.05 141.50 401.50C145.35 399.95 149.25 398.23 153.10 396.90C156.95 395.57 161.53 394.18 164.60 393.50C167.67 392.82 169.18 392.68 171.50 392.80C173.82 392.92 175.80 393.20 178.50 394.20C181.20 395.20 184.63 396.80 187.70 398.80C190.77 400.80 193.82 403.43 196.90 406.20C199.98 408.97 203.12 412.13 206.20 415.40C209.28 418.67 212.33 422.33 215.40 425.80C218.47 429.27 221.53 433.13 224.60 436.20C227.67 439.27 230.72 442.28 233.80 444.20C236.88 446.12 240.40 446.90 243.10 447.70C245.80 448.50 247.18 448.67 250.00 449.00C252.82 449.33 256.33 449.53 260.00 449.70C263.67 449.87 270.00 449.95 272.00 450.00L272 450.0L48.1 450.0Z" fill="#ad96ba"/>
<path d="M48.10 349.10C48.47 347.43 49.47 342.18 50.30 339.10C51.13 336.02 52.03 333.68 53.10 330.60C54.17 327.52 55.50 323.58 56.70 320.60C57.90 317.62 59.10 314.73 60.30 312.70C61.50 310.67 62.73 309.35 63.90 308.40C65.07 307.45 66.25 307.03 67.30 307.00C68.35 306.97 69.28 307.50 70.20 308.20C71.12 308.90 71.93 309.95 72.80 311.20C73.67 312.45 74.52 313.93 75.40 315.70C76.28 317.47 77.22 319.72 78.10 321.80C78.98 323.88 79.52 325.05 80.70 328.20C81.88 331.35 83.85 336.98 85.20 340.70C86.55 344.42 87.53 346.63 88.80 350.50C90.07 354.37 91.32 359.73 92.80 363.90C94.28 368.07 95.85 371.00 97.70 375.50C99.55 380.00 102.18 387.35 103.90 390.90C105.62 394.45 106.72 395.12 108.00 396.80C109.28 398.48 110.35 399.73 111.60 401.00C112.85 402.27 114.33 403.52 115.50 404.40C116.67 405.28 117.65 405.87 118.60 406.30C119.55 406.73 120.77 406.88 121.20 407.00" fill="none" stroke="#111" stroke-width="0.9"/>
<path d="M121.20 407.00C122.05 406.53 124.83 405.18 126.30 404.20C127.77 403.22 127.47 403.27 130.00 401.10C132.53 398.93 137.65 394.78 141.50 391.20C145.35 387.62 149.25 384.03 153.10 379.60C156.95 375.17 161.15 369.98 164.60 364.60C168.05 359.22 171.10 353.07 173.80 347.30C176.50 341.53 178.48 335.38 180.80 330.00C183.12 324.62 185.78 318.53 187.70 315.00C189.62 311.47 190.83 310.13 192.30 308.80C193.77 307.47 195.13 306.87 196.50 307.00C197.87 307.13 199.28 308.27 200.50 309.60C201.72 310.93 202.67 312.37 203.80 315.00C204.93 317.63 206.33 322.13 207.30 325.40C208.27 328.67 208.92 331.15 209.60 334.60C210.28 338.05 210.80 342.70 211.40 346.10C212.00 349.50 212.20 349.92 213.20 355.00C214.20 360.08 215.98 369.38 217.40 376.60C218.82 383.82 220.27 391.80 221.70 398.30C223.13 404.80 224.28 409.83 226.00 415.60C227.72 421.37 230.00 428.57 232.00 432.90C234.00 437.23 236.00 439.32 238.00 441.60C240.00 443.88 242.00 445.43 244.00 446.60C246.00 447.77 247.33 448.10 250.00 448.60C252.67 449.10 255.83 449.37 260.00 449.60C264.17 449.83 272.50 449.93 275.00 450.00" fill="none" stroke="#111" stroke-width="0.9"/>
<path d="M48.10 423.30C48.73 421.75 50.40 416.93 51.90 414.00C53.40 411.07 55.37 407.93 57.10 405.70C58.83 403.47 60.57 401.70 62.30 400.60C64.03 399.50 65.77 399.17 67.50 399.10C69.23 399.03 70.97 399.63 72.70 400.20C74.43 400.77 76.17 401.77 77.90 402.50C79.63 403.23 81.08 404.02 83.10 404.60C85.12 405.18 87.70 405.55 90.00 406.00C92.30 406.45 94.60 406.87 96.90 407.30C99.20 407.73 101.48 408.25 103.80 408.60C106.12 408.95 108.77 409.32 110.80 409.40C112.83 409.48 114.27 409.50 116.00 409.10C117.73 408.70 120.33 407.35 121.20 407.00" fill="none" stroke="#c8102e" stroke-width="1.5"/>
<path d="M121.20 407.00C122.05 406.95 124.83 406.83 126.30 406.70C127.77 406.57 127.47 407.07 130.00 406.20C132.53 405.33 137.65 403.05 141.50 401.50C145.35 399.95 149.25 398.23 153.10 396.90C156.95 395.57 161.53 394.18 164.60 393.50C167.67 392.82 169.18 392.68 171.50 392.80C173.82 392.92 175.80 393.20 178.50 394.20C181.20 395.20 184.63 396.80 187.70 398.80C190.77 400.80 193.82 403.43 196.90 406.20C199.98 408.97 203.12 412.13 206.20 415.40C209.28 418.67 212.33 422.33 215.40 425.80C218.47 429.27 221.53 433.13 224.60 436.20C227.67 439.27 230.72 442.28 233.80 444.20C236.88 446.12 240.40 446.90 243.10 447.70C245.80 448.50 247.18 448.67 250.00 449.00C252.82 449.33 256.33 449.53 260.00 449.70C263.67 449.87 270.00 449.95 272.00 450.00" fill="none" stroke="#1d5189" stroke-width="1.4"/>
<path d="M48 293V450.7M47.4 450.1H306" fill="none" stroke="#222" stroke-width="1.25"/>
<text x="42.2" y="452.9" font-size="8.2" text-anchor="end" fill="#262626" stroke="#262626" stroke-width="0.14" textLength="15.40" lengthAdjust="spacingAndGlyphs">0.00</text>
<text x="42.2" y="417.29999999999995" font-size="8.2" text-anchor="end" fill="#262626" stroke="#262626" stroke-width="0.14" textLength="15.40" lengthAdjust="spacingAndGlyphs">0.25</text>
<text x="42.2" y="381.7" font-size="8.2" text-anchor="end" fill="#262626" stroke="#262626" stroke-width="0.14" textLength="15.40" lengthAdjust="spacingAndGlyphs">0.50</text>
<text x="42.2" y="346.09999999999997" font-size="8.2" text-anchor="end" fill="#262626" stroke="#262626" stroke-width="0.14" textLength="15.40" lengthAdjust="spacingAndGlyphs">0.75</text>
<text x="42.2" y="310.5" font-size="8.2" text-anchor="end" fill="#262626" stroke="#262626" stroke-width="0.14" textLength="15.40" lengthAdjust="spacingAndGlyphs">1.00</text>
<text x="48.0" y="462.4" font-size="8.2" text-anchor="middle" fill="#262626" stroke="#262626" stroke-width="0.14" textLength="11.00" lengthAdjust="spacingAndGlyphs">0.0</text>
<text x="112.5" y="462.4" font-size="8.2" text-anchor="middle" fill="#262626" stroke="#262626" stroke-width="0.14" textLength="11.00" lengthAdjust="spacingAndGlyphs">0.2</text>
<text x="177.0" y="462.4" font-size="8.2" text-anchor="middle" fill="#262626" stroke="#262626" stroke-width="0.14" textLength="11.00" lengthAdjust="spacingAndGlyphs">0.4</text>
<text x="241.5" y="462.4" font-size="8.2" text-anchor="middle" fill="#262626" stroke="#262626" stroke-width="0.14" textLength="11.00" lengthAdjust="spacingAndGlyphs">0.6</text>
<text x="306.0" y="462.4" font-size="8.2" text-anchor="middle" fill="#262626" stroke="#262626" stroke-width="0.14" textLength="11.00" lengthAdjust="spacingAndGlyphs">0.8</text>
<path d="M44.5 450.00H48M44.5 414.40H48M44.5 378.80H48M44.5 343.20H48M44.5 307.60H48M48.00 450V453M112.50 450V453M177.00 450V453M241.50 450V453M306.00 450V453" stroke="#333" stroke-width="0.9" fill="none"/>
<text x="177.4" y="475.5" font-size="8.4" text-anchor="middle" fill="#262626" stroke="#262626" stroke-width="0.14" textLength="77.80" lengthAdjust="spacingAndGlyphs">Variant allele frequency</text>
<text x="0" y="0" font-size="8.4" text-anchor="middle" fill="#262626" stroke="#262626" stroke-width="0.14" textLength="25.60" lengthAdjust="spacingAndGlyphs" transform="translate(18.2 378.3) rotate(-90)">Density</text>
<path d="M48.90 498.60H54.20V499.20H66.00V499.80H73.50V501.10H75.50V501.60H77.90V502.90H79.80V504.30H82.70V504.80H84.60V506.30H87.50V508.20H90.40V508.70H93.30V511.30H103.60V513.50H106.70V514.90H109.60V516.20H134.20V517.70H150.50V518.70H152.20V520.40H170.60V523.90H252.00" fill="none" stroke="#3fb548" stroke-width="1.5"/>
<path d="M48.90 502.20H53.80V506.30H56.90V510.50H61.00V513.30H69.10V517.60H73.60V519.80H78.40V521.60H82.00V524.00H82.70V526.40H88.50V528.50H92.80V533.30H97.40V536.20H102.20V538.60H106.50V541.00H111.30V544.20H122.10V548.80H252.00" fill="none" stroke="#1f5c96" stroke-width="1.5"/>
<path d="M48.90 499.60L51.20 500.50L51.80 504.20L54.10 508.30L56.40 511.70L59.00 515.80L61.00 519.20L62.70 520.40L64.50 522.70L66.20 526.70L67.90 528.50L69.70 529.60L72.50 533.00L75.00 536.50L76.90 539.90L80.80 541.30L83.70 542.30L84.60 545.70L86.50 548.10L90.90 551.40L92.80 553.80L95.20 555.80L98.10 559.60L103.50 566.20L107.30 567.40L110.40 570.80L115.80 572.30L121.90 573.80L124.20 575.10L126.50 577.70L130.40 577.70L131.90 580.30L134.20 581.20L142.70 581.20L145.00 583.10L148.10 585.40L151.20 585.40L152.70 588.50L160.40 588.50L161.90 590.10L212.20 590.10L212.20 600.00L252.00 600.00" fill="none" stroke="#c8102e" stroke-width="1.5" stroke-linejoin="round"/>
<text x="43.2" y="641.9" font-size="8.4" text-anchor="end" fill="#262626" stroke="#262626" stroke-width="0.14" textLength="4.11" lengthAdjust="spacingAndGlyphs">0</text>
<text x="43.2" y="627.88" font-size="8.4" text-anchor="end" fill="#262626" stroke="#262626" stroke-width="0.14" textLength="6.16" lengthAdjust="spacingAndGlyphs">.1</text>
<text x="43.2" y="613.86" font-size="8.4" text-anchor="end" fill="#262626" stroke="#262626" stroke-width="0.14" textLength="6.16" lengthAdjust="spacingAndGlyphs">.2</text>
<text x="43.2" y="599.84" font-size="8.4" text-anchor="end" fill="#262626" stroke="#262626" stroke-width="0.14" textLength="6.16" lengthAdjust="spacingAndGlyphs">.3</text>
<text x="43.2" y="585.8199999999999" font-size="8.4" text-anchor="end" fill="#262626" stroke="#262626" stroke-width="0.14" textLength="6.16" lengthAdjust="spacingAndGlyphs">.4</text>
<text x="43.2" y="571.8" font-size="8.4" text-anchor="end" fill="#262626" stroke="#262626" stroke-width="0.14" textLength="6.16" lengthAdjust="spacingAndGlyphs">.5</text>
<text x="43.2" y="557.78" font-size="8.4" text-anchor="end" fill="#262626" stroke="#262626" stroke-width="0.14" textLength="6.16" lengthAdjust="spacingAndGlyphs">.6</text>
<text x="43.2" y="543.76" font-size="8.4" text-anchor="end" fill="#262626" stroke="#262626" stroke-width="0.14" textLength="6.16" lengthAdjust="spacingAndGlyphs">.7</text>
<text x="43.2" y="529.74" font-size="8.4" text-anchor="end" fill="#262626" stroke="#262626" stroke-width="0.14" textLength="6.16" lengthAdjust="spacingAndGlyphs">.8</text>
<text x="43.2" y="515.72" font-size="8.4" text-anchor="end" fill="#262626" stroke="#262626" stroke-width="0.14" textLength="6.16" lengthAdjust="spacingAndGlyphs">.9</text>
<text x="43.2" y="501.7" font-size="8.4" text-anchor="end" fill="#262626" stroke="#262626" stroke-width="0.14" textLength="4.11" lengthAdjust="spacingAndGlyphs">1</text>
<text x="49.9" y="651.6" font-size="8.4" text-anchor="middle" fill="#262626" stroke="#262626" stroke-width="0.14" textLength="4.30" lengthAdjust="spacingAndGlyphs">0</text>
<text x="68.41" y="651.6" font-size="8.4" text-anchor="middle" fill="#262626" stroke="#262626" stroke-width="0.14" textLength="8.59" lengthAdjust="spacingAndGlyphs">24</text>
<text x="88.41999999999999" y="651.6" font-size="8.4" text-anchor="middle" fill="#262626" stroke="#262626" stroke-width="0.14" textLength="8.59" lengthAdjust="spacingAndGlyphs">48</text>
<text x="108.42999999999999" y="651.6" font-size="8.4" text-anchor="middle" fill="#262626" stroke="#262626" stroke-width="0.14" textLength="8.59" lengthAdjust="spacingAndGlyphs">72</text>
<text x="128.44" y="651.6" font-size="8.4" text-anchor="middle" fill="#262626" stroke="#262626" stroke-width="0.14" textLength="8.59" lengthAdjust="spacingAndGlyphs">96</text>
<text x="148.45" y="651.6" font-size="8.4" text-anchor="middle" fill="#262626" stroke="#262626" stroke-width="0.14" textLength="12.89" lengthAdjust="spacingAndGlyphs">120</text>
<text x="168.45999999999998" y="651.6" font-size="8.4" text-anchor="middle" fill="#262626" stroke="#262626" stroke-width="0.14" textLength="12.89" lengthAdjust="spacingAndGlyphs">144</text>
<text x="188.47" y="651.6" font-size="8.4" text-anchor="middle" fill="#262626" stroke="#262626" stroke-width="0.14" textLength="12.89" lengthAdjust="spacingAndGlyphs">168</text>
<text x="208.48" y="651.6" font-size="8.4" text-anchor="middle" fill="#262626" stroke="#262626" stroke-width="0.14" textLength="12.89" lengthAdjust="spacingAndGlyphs">192</text>
<text x="228.49" y="651.6" font-size="8.4" text-anchor="middle" fill="#262626" stroke="#262626" stroke-width="0.14" textLength="12.89" lengthAdjust="spacingAndGlyphs">216</text>
<text x="248.5" y="651.6" font-size="8.4" text-anchor="middle" fill="#262626" stroke="#262626" stroke-width="0.14" textLength="12.89" lengthAdjust="spacingAndGlyphs">240</text>
<path d="M48.4 497.5V639.6M47.8 639H252" fill="none" stroke="#333" stroke-width="1.2"/>
<path d="M45.6 639.00H48.4M45.6 624.98H48.4M45.6 610.96H48.4M45.6 596.94H48.4M45.6 582.92H48.4M45.6 568.90H48.4M45.6 554.88H48.4M45.6 540.86H48.4M45.6 526.84H48.4M45.6 512.82H48.4M45.6 498.80H48.4M48.40 639V641.8M68.41 639V641.8M88.42 639V641.8M108.43 639V641.8M128.44 639V641.8M148.45 639V641.8M168.46 639V641.8M188.47 639V641.8M208.48 639V641.8M228.49 639V641.8M248.50 639V641.8" stroke="#333" stroke-width="0.9" fill="none"/>
<text x="150.6" y="664.2" font-size="8.8" text-anchor="middle" fill="#262626" stroke="#262626" stroke-width="0.14" textLength="48.50" lengthAdjust="spacingAndGlyphs">Time (months)</text>
<text x="0" y="0" font-size="8.4" text-anchor="middle" fill="#262626" stroke="#262626" stroke-width="0.14" textLength="101.50" lengthAdjust="spacingAndGlyphs" transform="translate(29.5 564.8) rotate(-90)">Cumulative proportion surviving</text>
<path d="M315.8 635H488.8" fill="none" stroke="#1f5c96" stroke-width="1.4"/>
<path d="M316.9 633V637M325.4 633V637M329.2 633V637M375.0 633V637M376.0 633V637M416.8 633V637M454.2 633V637M458.8 633V637" stroke="#1f5c96" stroke-width="0.9" fill="none"/>
<path d="M313.80 634.50L315.40 633.40L316.50 632.60L316.90 628.40L323.10 628.40L323.50 624.20L324.20 615.70L325.00 611.10L325.80 609.90L326.50 609.50L327.30 607.60L333.10 607.60L334.20 602.60L336.50 602.20L337.70 597.20L340.80 596.80L341.50 594.50L345.40 594.20L346.10 591.40L364.90 591.40L365.40 588.60L367.60 588.20L368.20 585.30L369.60 581.20L375.30 581.20L375.70 577.20L384.40 577.20L385.10 569.10L401.20 569.10L401.90 563.70L473.70 563.70" fill="none" stroke="#c8102e" stroke-width="1.4" stroke-linejoin="round"/>
<path d="M329.6 605.7V608.7M347.7 589.6V592.6M356.8 589.6V592.6M364.2 589.6V592.6M383.7 575.4000000000001V578.4000000000001M402.6 561.9000000000001V564.9000000000001" stroke="#c8102e" stroke-width="0.8" fill="none"/>
<text x="303.4" y="637.9" font-size="8.4" text-anchor="end" fill="#262626" stroke="#262626" stroke-width="0.14" textLength="11.10" lengthAdjust="spacingAndGlyphs">0.0</text>
<text x="303.4" y="624.55" font-size="8.4" text-anchor="end" fill="#262626" stroke="#262626" stroke-width="0.14" textLength="11.10" lengthAdjust="spacingAndGlyphs">0.1</text>
<text x="303.4" y="611.1999999999999" font-size="8.4" text-anchor="end" fill="#262626" stroke="#262626" stroke-width="0.14" textLength="11.10" lengthAdjust="spacingAndGlyphs">0.2</text>
<text x="303.4" y="597.85" font-size="8.4" text-anchor="end" fill="#262626" stroke="#262626" stroke-width="0.14" textLength="11.10" lengthAdjust="spacingAndGlyphs">0.3</text>
<text x="303.4" y="584.5" font-size="8.4" text-anchor="end" fill="#262626" stroke="#262626" stroke-width="0.14" textLength="11.10" lengthAdjust="spacingAndGlyphs">0.4</text>
<text x="303.4" y="571.15" font-size="8.4" text-anchor="end" fill="#262626" stroke="#262626" stroke-width="0.14" textLength="11.10" lengthAdjust="spacingAndGlyphs">0.5</text>
<text x="303.4" y="557.8" font-size="8.4" text-anchor="end" fill="#262626" stroke="#262626" stroke-width="0.14" textLength="11.10" lengthAdjust="spacingAndGlyphs">0.6</text>
<text x="303.4" y="544.4499999999999" font-size="8.4" text-anchor="end" fill="#262626" stroke="#262626" stroke-width="0.14" textLength="11.10" lengthAdjust="spacingAndGlyphs">0.7</text>
<text x="303.4" y="531.1" font-size="8.4" text-anchor="end" fill="#262626" stroke="#262626" stroke-width="0.14" textLength="11.10" lengthAdjust="spacingAndGlyphs">0.8</text>
<text x="303.4" y="517.75" font-size="8.4" text-anchor="end" fill="#262626" stroke="#262626" stroke-width="0.14" textLength="11.10" lengthAdjust="spacingAndGlyphs">0.9</text>
<text x="303.4" y="504.4" font-size="8.4" text-anchor="end" fill="#262626" stroke="#262626" stroke-width="0.14" textLength="11.10" lengthAdjust="spacingAndGlyphs">1.0</text>
<text x="312.5" y="651.6" font-size="8.4" text-anchor="middle" fill="#262626" stroke="#262626" stroke-width="0.14" textLength="4.30" lengthAdjust="spacingAndGlyphs">0</text>
<text x="336.0" y="651.6" font-size="8.4" text-anchor="middle" fill="#262626" stroke="#262626" stroke-width="0.14" textLength="8.59" lengthAdjust="spacingAndGlyphs">24</text>
<text x="359.5" y="651.6" font-size="8.4" text-anchor="middle" fill="#262626" stroke="#262626" stroke-width="0.14" textLength="8.59" lengthAdjust="spacingAndGlyphs">48</text>
<text x="383.0" y="651.6" font-size="8.4" text-anchor="middle" fill="#262626" stroke="#262626" stroke-width="0.14" textLength="8.59" lengthAdjust="spacingAndGlyphs">72</text>
<text x="406.5" y="651.6" font-size="8.4" text-anchor="middle" fill="#262626" stroke="#262626" stroke-width="0.14" textLength="8.59" lengthAdjust="spacingAndGlyphs">96</text>
<text x="430.0" y="651.6" font-size="8.4" text-anchor="middle" fill="#262626" stroke="#262626" stroke-width="0.14" textLength="12.89" lengthAdjust="spacingAndGlyphs">120</text>
<text x="453.5" y="651.6" font-size="8.4" text-anchor="middle" fill="#262626" stroke="#262626" stroke-width="0.14" textLength="12.89" lengthAdjust="spacingAndGlyphs">144</text>
<text x="477.0" y="651.6" font-size="8.4" text-anchor="middle" fill="#262626" stroke="#262626" stroke-width="0.14" textLength="12.89" lengthAdjust="spacingAndGlyphs">168</text>
<text x="500.5" y="651.6" font-size="8.4" text-anchor="middle" fill="#262626" stroke="#262626" stroke-width="0.14" textLength="12.89" lengthAdjust="spacingAndGlyphs">192</text>
<path d="M310.1 497.7V639.4M309.3 638.8H510.8" fill="none" stroke="#4a4a4a" stroke-width="1.6"/>
<path d="M307.2 635.00H310.3M307.2 621.65H310.3M307.2 608.30H310.3M307.2 594.95H310.3M307.2 581.60H310.3M307.2 568.25H310.3M307.2 554.90H310.3M307.2 541.55H310.3M307.2 528.20H310.3M307.2 514.85H310.3M307.2 501.50H310.3M312.50 638.8V641.6M336.00 638.8V641.6M359.50 638.8V641.6M383.00 638.8V641.6M406.50 638.8V641.6M430.00 638.8V641.6M453.50 638.8V641.6M477.00 638.8V641.6M500.50 638.8V641.6" stroke="#333" stroke-width="0.9" fill="none"/>
<text x="410.9" y="664.2" font-size="8.8" text-anchor="middle" fill="#262626" stroke="#262626" stroke-width="0.14" textLength="48.50" lengthAdjust="spacingAndGlyphs">Time (months)</text>
<text x="0" y="0" font-size="8.2" text-anchor="middle" fill="#262626" stroke="#262626" stroke-width="0.14" textLength="71.80" lengthAdjust="spacingAndGlyphs" transform="translate(286.2 568.3) rotate(-90)">Cumulative incidence</text>
</svg></body></html>
